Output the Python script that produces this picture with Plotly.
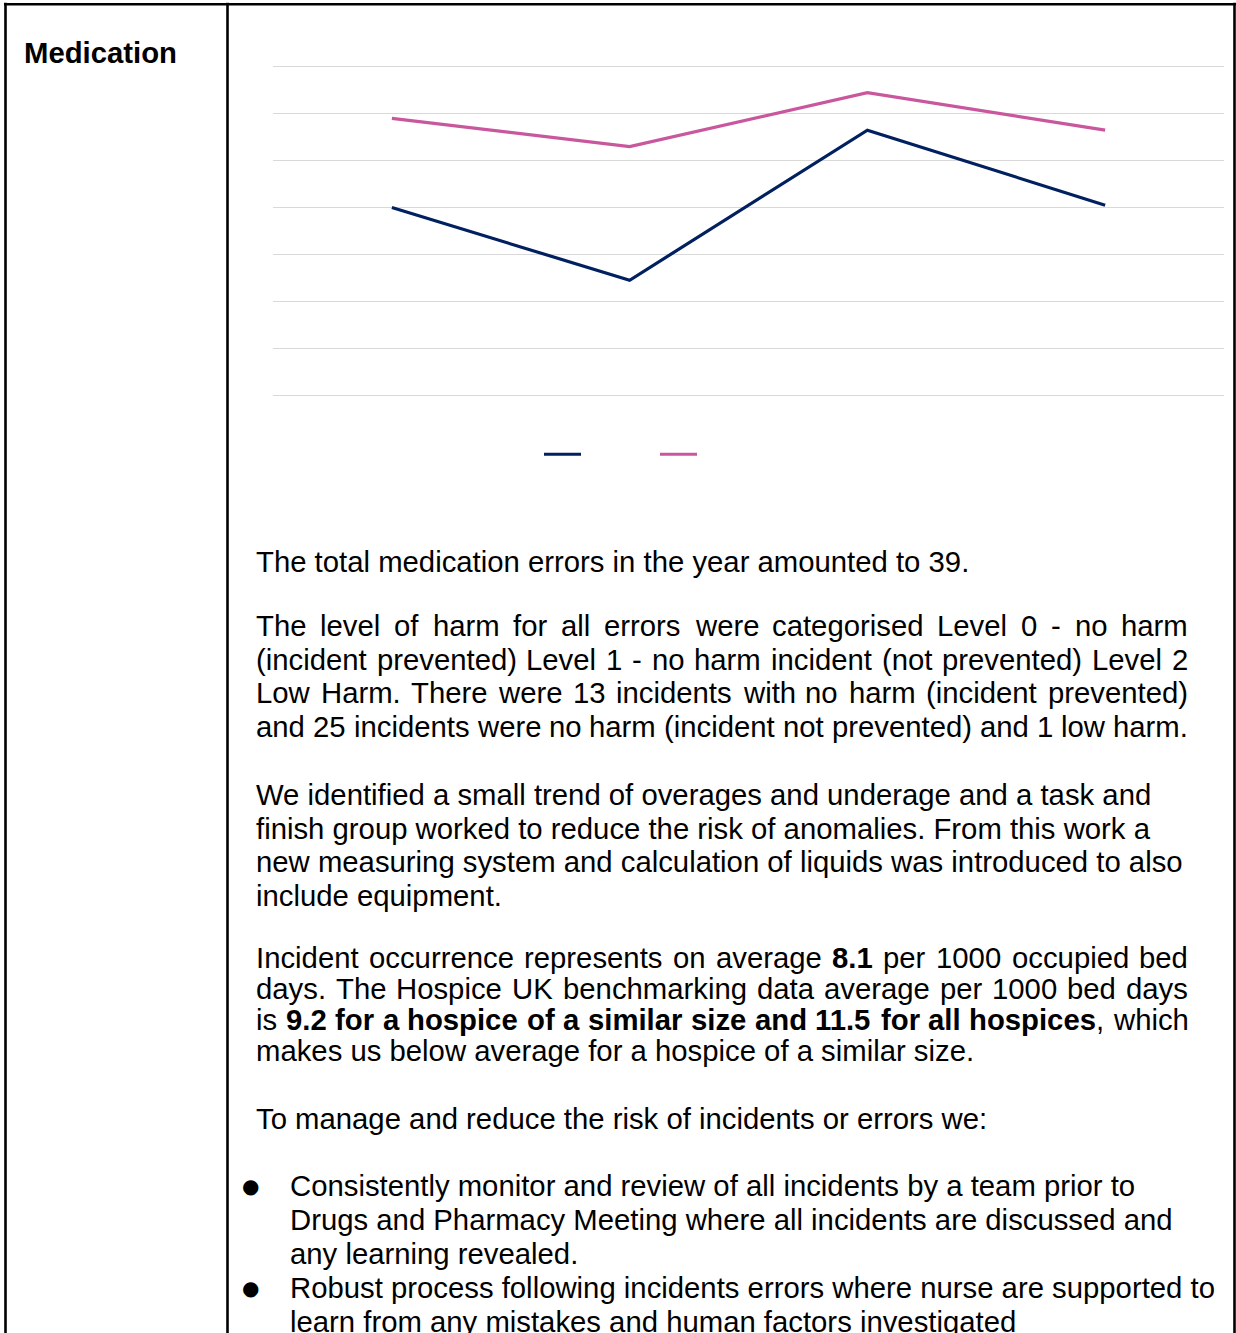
import plotly.graph_objects as go

# ---------------- data ----------------
quarters = ["Q1", "Q2", "Q3", "Q4"]
hospice_rate = [8.0, 4.9, 11.3, 8.1]        # navy line
benchmark_rate = [11.8, 10.6, 12.9, 11.3]   # pink line
y_ticks = [0, 2, 4, 6, 8, 10, 12, 14]

NAVY = "#002060"
PINK = "#c9579d"
FONT = "Liberation Sans, Arial, sans-serif"
FS = 29.3

W, H = 1236, 1333
PL, PR = 273, 1224          # plot area x extent (px)
Y_TOP, Y_BOT = 67, 395      # pixel rows of the top / bottom gridline
YPAD = 0.12                 # small value pad so the edge gridlines get drawn
PPU = (Y_BOT - Y_TOP) / (y_ticks[-1] - y_ticks[0])
PT = Y_TOP - YPAD * PPU
PB = Y_BOT + YPAD * PPU


def xp(px):
    return (px - PL) / (PR - PL)


def yp(py):
    return (PB - py) / (PB - PT)


# Arial / Liberation Sans advance widths (1/1000 em)
_up = "ABCDEFGHIJKLMNOPQRSTUVWXYZ"
_lo = "abcdefghijklmnopqrstuvwxyz"
REG = dict(zip(" !\"#$%&'()*+,-./:;?", [278, 278, 355, 556, 556, 889, 667, 191, 333, 333, 389, 584, 278, 333, 278, 278, 278, 278, 556]))
REG.update({d: 556 for d in "0123456789"})
REG.update(dict(zip(_up, [667, 667, 722, 722, 667, 611, 778, 722, 278, 500, 667, 556, 833, 722, 778, 667, 778, 722, 667, 611, 722, 667, 944, 667, 667, 611])))
REG.update(dict(zip(_lo, [556, 556, 500, 556, 556, 278, 556, 556, 222, 222, 500, 222, 833, 556, 556, 556, 556, 333, 500, 278, 556, 500, 722, 500, 500, 500])))
BOLD = dict(zip(" !\"#$%&'()*+,-./:;?", [278, 333, 474, 556, 556, 889, 722, 238, 333, 333, 389, 584, 278, 333, 278, 278, 333, 333, 611]))
BOLD.update({d: 556 for d in "0123456789"})
BOLD.update(dict(zip(_up, [722, 722, 722, 722, 667, 611, 778, 722, 278, 556, 722, 611, 833, 722, 778, 667, 778, 722, 667, 611, 722, 667, 944, 667, 667, 611])))
BOLD.update(dict(zip(_lo, [556, 611, 556, 611, 556, 333, 611, 611, 278, 278, 556, 278, 889, 611, 611, 611, 611, 389, 556, 333, 611, 556, 778, 556, 556, 500])))


def word_runs(word):
    """split a word with **bold** markers into runs"""
    runs, bold, buf = [], False, ""
    i = 0
    while i < len(word):
        if word[i:i + 2] == "**":
            if buf:
                runs.append((buf, bold))
            buf, bold = "", not bold
            i += 2
        else:
            buf += word[i]
            i += 1
    if buf:
        runs.append((buf, bold))
    return runs


def runs_width(runs):
    return sum((BOLD if b else REG).get(c, 556) for t, b in runs for c in t) * FS / 1000


def runs_html(runs):
    return "".join(f"<b>{t}</b>" if b else t for t, b in runs)


annotations = []


def add_text(text, x, y, size=FS, bold=False, xanchor="left", family=FONT):
    annotations.append(dict(
        text=f"<b>{text}</b>" if bold else text, x=xp(x), y=yp(y),
        xref="paper", yref="paper", xanchor=xanchor, yanchor="middle",
        showarrow=False, font=dict(family=family, size=size, color="#000000"),
        borderpad=0))


def add_line(line, y, x0=255, justify_to=None):
    if justify_to is None:
        runs = word_runs(line)
        add_text(runs_html(runs), x0, y)
        return
    words = line.split(" ")
    wruns, bold = [], False
    for w in words:
        r = word_runs(("**" if bold else "") + w)
        bold = (w.count("**") % 2 == 1) != bold
        wruns.append(r)
    widths = [runs_width(r) for r in wruns]
    gap = (justify_to - x0 - sum(widths)) / (len(words) - 1)
    x = x0
    for r, w in zip(wruns, widths):
        add_text(runs_html(r), x, y)
        x += w + gap


# ---------------- text ----------------
add_text("Medication", 23, 53, bold=True)

add_line("The total medication errors in the year amounted to 39.", 561)

p2 = ["The level of harm for all errors were categorised Level 0 - no harm",
      "(incident prevented) Level 1 - no harm incident (not prevented) Level 2",
      "Low Harm. There were 13 incidents with no harm (incident prevented)",
      "and 25 incidents were no harm (incident not prevented) and 1 low harm."]
for i, ln in enumerate(p2):
    add_line(ln, 625 + 33.6 * i, justify_to=1187)

p3 = ["We identified a small trend of overages and underage and a task and",
      "finish group worked to reduce the risk of anomalies. From this work a",
      "new measuring system and calculation of liquids was introduced to also",
      "include equipment."]
for i, ln in enumerate(p3):
    add_line(ln, 794 + 33.6 * i)

p4 = ["Incident occurrence represents on average **8.1** per 1000 occupied bed",
      "days. The Hospice UK benchmarking data average per 1000 bed days",
      "is **9.2 for a hospice of a similar size and 11.5 for all hospices**, which",
      "makes us below average for a hospice of a similar size."]
for i, ln in enumerate(p4):
    add_line(ln, 957 + 31 * i, justify_to=1187 if i < 3 else None)

add_line("To manage and reduce the risk of incidents or errors we:", 1117)

bullets = ["Consistently monitor and review of all incidents by a team prior to",
           "Drugs and Pharmacy Meeting where all incidents are discussed and",
           "any learning revealed.",
           "Robust process following incidents errors where nurse are supported to",
           "learn from any mistakes and human factors investigated"]
for i, ln in enumerate(bullets):
    y = 1184 + 34 * i
    add_line(ln, y, x0=289)
    if i in (0, 3):
        add_text("●", 250, y + 1, size=20, xanchor="center", family="DejaVu Sans")

# ---------------- table borders ----------------
shapes = []
for x in (5.5, 227.5, 1234.5):
    shapes.append(dict(type="line", xref="paper", yref="paper",
                       x0=xp(x), x1=xp(x), y0=yp(3), y1=yp(H + 5),
                       line=dict(color="#000000", width=2.6)))
shapes.append(dict(type="line", xref="paper", yref="paper",
                   x0=xp(4), x1=xp(W), y0=yp(4.5), y1=yp(4.5),
                   line=dict(color="#000000", width=2.6)))

# ---------------- figure ----------------
fig = go.Figure()
fig.add_trace(go.Scatter(x=quarters, y=hospice_rate, mode="lines", name="",
                         line=dict(color=NAVY, width=3.2)))
fig.add_trace(go.Scatter(x=quarters, y=benchmark_rate, mode="lines", name="",
                         line=dict(color=PINK, width=3.2)))

fig.update_layout(
    width=W, height=H,
    margin=dict(l=PL, r=W - PR, t=PT, b=H - PB, pad=0),
    paper_bgcolor="#ffffff", plot_bgcolor="#ffffff",
    font=dict(family=FONT, size=14, color="#000000"),
    xaxis=dict(range=[-0.5, len(quarters) - 0.5], showgrid=False, showticklabels=False,
               ticks="", showline=False, zeroline=False, fixedrange=True),
    yaxis=dict(range=[y_ticks[0] - YPAD, y_ticks[-1] + YPAD], tickvals=y_ticks,
               showticklabels=False, ticks="",
               showgrid=True, gridcolor="#d9d9d9", gridwidth=1.2,
               zeroline=False, showline=False, fixedrange=True),
    showlegend=True,
    legend=dict(orientation="h", x=xp(539), y=yp(454), xanchor="left", yanchor="middle",
                itemwidth=37, entrywidth=64, entrywidthmode="pixels",
                bgcolor="rgba(0,0,0,0)", font=dict(size=12)),
    annotations=annotations,
    shapes=shapes,
)

fig.write_html("out.html")
